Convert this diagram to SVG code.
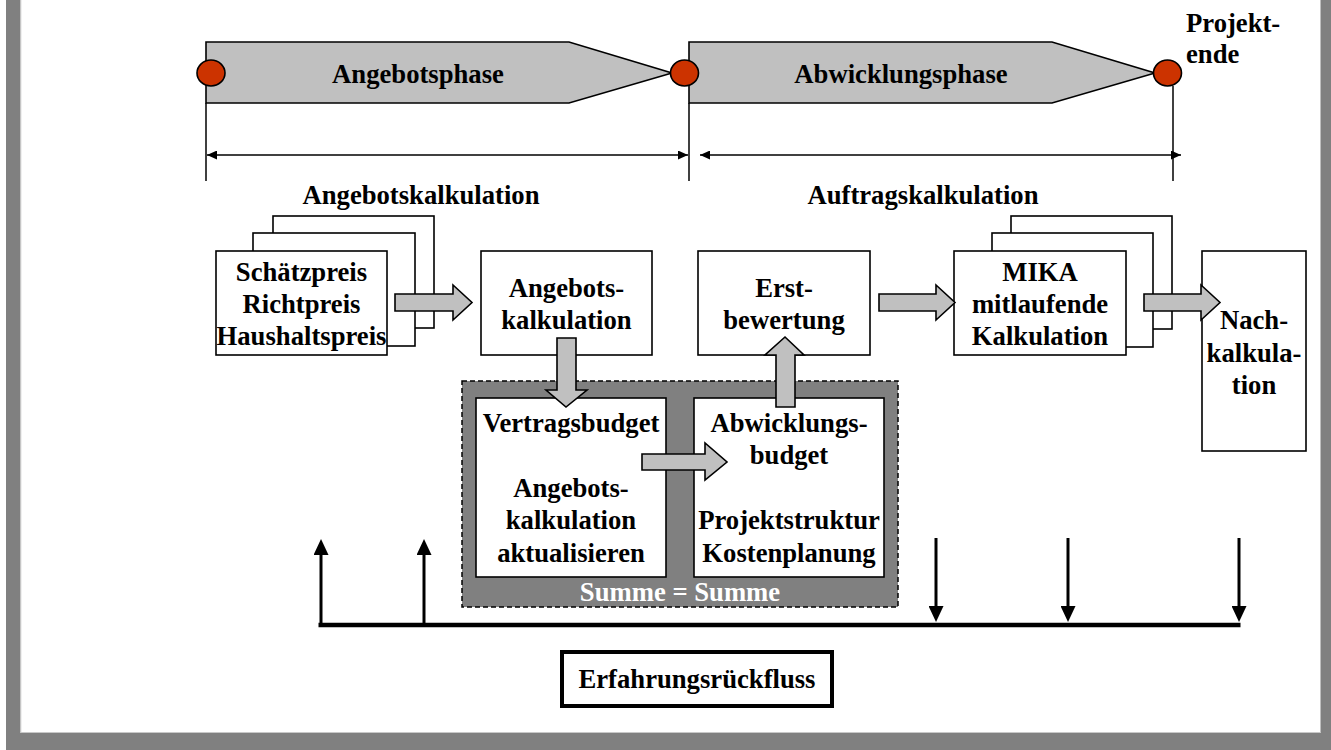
<svg xmlns="http://www.w3.org/2000/svg" width="1331" height="750" viewBox="0 0 1331 750">
  <style>
    .t { font-family: "Liberation Serif", "Times New Roman", serif; font-weight: bold; font-size: 26.67px; fill: #000; text-anchor: middle; }
    .tl { font-family: "Liberation Serif", "Times New Roman", serif; font-weight: bold; font-size: 26.67px; fill: #000; }
    .tw { fill: #fff; }
    .box { fill: #fff; stroke: #000; stroke-width: 1.6; }
    .phase { fill: #c0c0c0; stroke: #000; stroke-width: 1.6; stroke-linejoin: miter; }
    .milestone { fill: #cc3300; stroke: #000; stroke-width: 1.6; }
    .blk { fill: #c0c0c0; stroke: #000; stroke-width: 1.6; stroke-linejoin: miter; }
    .thin { fill: none; stroke: #000; stroke-width: 1.5; }
    .fb { fill: none; stroke: #000; stroke-width: 3; }
  </style>
  <defs>
    <marker id="dimHead" viewBox="0 0 10 9" refX="10" refY="4.5" markerWidth="10" markerHeight="9" markerUnits="userSpaceOnUse" orient="auto-start-reverse">
      <path d="M0,0 L10,4.5 L0,9 z" fill="#000"/>
    </marker>
    <marker id="fbHead" viewBox="0 0 16 15" refX="1" refY="7.5" markerWidth="16" markerHeight="15" markerUnits="userSpaceOnUse" orient="auto">
      <path d="M0,0 L16,7.5 L0,15 z" fill="#000"/>
    </marker>
  </defs>

  <!-- page background and frame -->
  <rect x="0" y="0" width="1331" height="750" fill="#fff"/>
  <rect x="6" y="0" width="14.5" height="750" fill="#808080"/>
  <rect x="1320.5" y="0" width="10.5" height="750" fill="#808080"/>
  <rect x="6" y="733" width="1325" height="17" fill="#808080"/>
  <line x1="20.8" y1="0" x2="20.8" y2="732.5" stroke="#c8c8c8" stroke-width="1"/>
  <line x1="20.8" y1="732.5" x2="1320.5" y2="732.5" stroke="#c8c8c8" stroke-width="1"/>

  <!-- project phases -->
  <g id="phase-angebot">
    <polygon class="phase" points="206,42 569,42 672,73 569,103 206,103"/>
    <text class="t" x="418" y="83">Angebotsphase</text>
  </g>
  <g id="phase-abwicklung">
    <polygon class="phase" points="689,42 1052,42 1155,73 1052,103 689,103"/>
    <text class="t" x="901" y="83">Abwicklungsphase</text>
  </g>
  <g id="milestones">
    <ellipse class="milestone" cx="211" cy="73" rx="14" ry="13"/>
    <ellipse class="milestone" cx="684.5" cy="73" rx="14" ry="13"/>
    <ellipse class="milestone" cx="1167.5" cy="73" rx="14" ry="13"/>
  </g>
  <g id="projektende">
    <text class="tl" x="1186" y="32">Projekt-</text>
    <text class="tl" x="1186" y="63">ende</text>
  </g>

  <!-- phase boundaries and spans -->
  <g id="spans">
    <line class="thin" x1="206" y1="103" x2="206" y2="181"/>
    <line class="thin" x1="689" y1="103" x2="689" y2="181"/>
    <line class="thin" x1="1173" y1="86" x2="1173" y2="181"/>
    <line class="thin" x1="207" y1="155" x2="688" y2="155" marker-start="url(#dimHead)" marker-end="url(#dimHead)"/>
    <line class="thin" x1="700" y1="155" x2="1181" y2="155" marker-start="url(#dimHead)" marker-end="url(#dimHead)"/>
    <text class="t" x="421" y="204">Angebotskalkulation</text>
    <text class="t" x="923" y="204">Auftragskalkulation</text>
  </g>

  <!-- price estimates (stacked) -->
  <g id="node-preise">
    <rect class="box" x="273" y="216" width="161" height="112"/>
    <rect class="box" x="253" y="233" width="162" height="113"/>
    <rect class="box" x="216" y="251" width="171" height="104"/>
    <text class="t" x="301.5" y="281">Schätzpreis</text>
    <text class="t" x="301.5" y="313">Richtpreis</text>
    <text class="t" x="301.5" y="345">Haushaltspreis</text>
  </g>

  <g id="node-angebotskalkulation">
    <rect class="box" x="481" y="251" width="171" height="104"/>
    <text class="t" x="566.5" y="297">Angebots-</text>
    <text class="t" x="566.5" y="329">kalkulation</text>
  </g>

  <g id="node-erstbewertung">
    <rect class="box" x="698" y="251" width="172" height="104"/>
    <text class="t" x="784" y="297">Erst-</text>
    <text class="t" x="784" y="329">bewertung</text>
  </g>

  <g id="node-mika">
    <rect class="box" x="1011" y="216" width="161" height="113"/>
    <rect class="box" x="992" y="233" width="161" height="114"/>
    <rect class="box" x="954" y="251" width="172" height="104"/>
    <text class="t" x="1040" y="281">MIKA</text>
    <text class="t" x="1040" y="313">mitlaufende</text>
    <text class="t" x="1040" y="345">Kalkulation</text>
  </g>

  <g id="node-nachkalkulation">
    <rect class="box" x="1202" y="251" width="104" height="200"/>
    <text class="t" x="1254" y="329">Nach-</text>
    <text class="t" x="1254" y="362">kalkula-</text>
    <text class="t" x="1254" y="394">tion</text>
  </g>

  <!-- budget area -->
  <g id="node-budgets">
    <rect x="462" y="381" width="436" height="226" fill="#808080" stroke="#000" stroke-width="1.5" stroke-dasharray="5,3"/>
    <text class="t tw" x="680" y="601">Summe = Summe</text>
  </g>
  <g id="node-vertragsbudget">
    <rect class="box" x="476" y="398" width="190" height="179"/>
    <text class="t" x="571" y="432">Vertragsbudget</text>
    <text class="t" x="571" y="497">Angebots-</text>
    <text class="t" x="571" y="529">kalkulation</text>
    <text class="t" x="571" y="562">aktualisieren</text>
  </g>
  <g id="node-abwicklungsbudget">
    <rect class="box" x="694" y="398" width="190" height="179"/>
    <text class="t" x="789" y="432">Abwicklungs-</text>
    <text class="t" x="789" y="464">budget</text>
    <text class="t" x="789" y="529">Projektstruktur</text>
    <text class="t" x="789" y="562">Kostenplanung</text>
  </g>

  <g id="node-erfahrung">
    <rect x="562" y="652" width="270" height="54" fill="#fff" stroke="#000" stroke-width="4"/>
    <text class="t" x="697" y="688">Erfahrungsrückfluss</text>
  </g>

  <!-- connectors -->
  <g id="connectors">
    <polygon class="blk" points="395,294 453,294 453,285 472,302.5 453,320 453,311 395,311"/>
    <polygon class="blk" points="557,338 576,338 576,390 587,390 566,407 546,390 557,390"/>
    <polygon class="blk" points="776,407 795,407 795,355 804,355 785,337 765,355 776,355"/>
    <polygon class="blk" points="642,454 705,454 705,443 727,462 705,480 705,470 642,470"/>
    <polygon class="blk" points="879,294 936,294 936,285 955,302.5 936,320 936,311 879,311"/>
    <polygon class="blk" points="1144,294 1201,294 1201,285 1220,302.5 1201,320 1201,311 1144,311"/>

    <!-- feedback loop -->
    <line x1="318.5" y1="625" x2="1240.5" y2="625" stroke="#000" stroke-width="4.5"/>
    <line class="fb" x1="321" y1="625" x2="321" y2="554" marker-end="url(#fbHead)"/>
    <line class="fb" x1="424" y1="625" x2="424" y2="554" marker-end="url(#fbHead)"/>
    <line class="fb" x1="936" y1="538" x2="936" y2="607" marker-end="url(#fbHead)"/>
    <line class="fb" x1="1068" y1="538" x2="1068" y2="607" marker-end="url(#fbHead)"/>
    <line class="fb" x1="1239" y1="538" x2="1239" y2="607" marker-end="url(#fbHead)"/>
  </g>
</svg>
